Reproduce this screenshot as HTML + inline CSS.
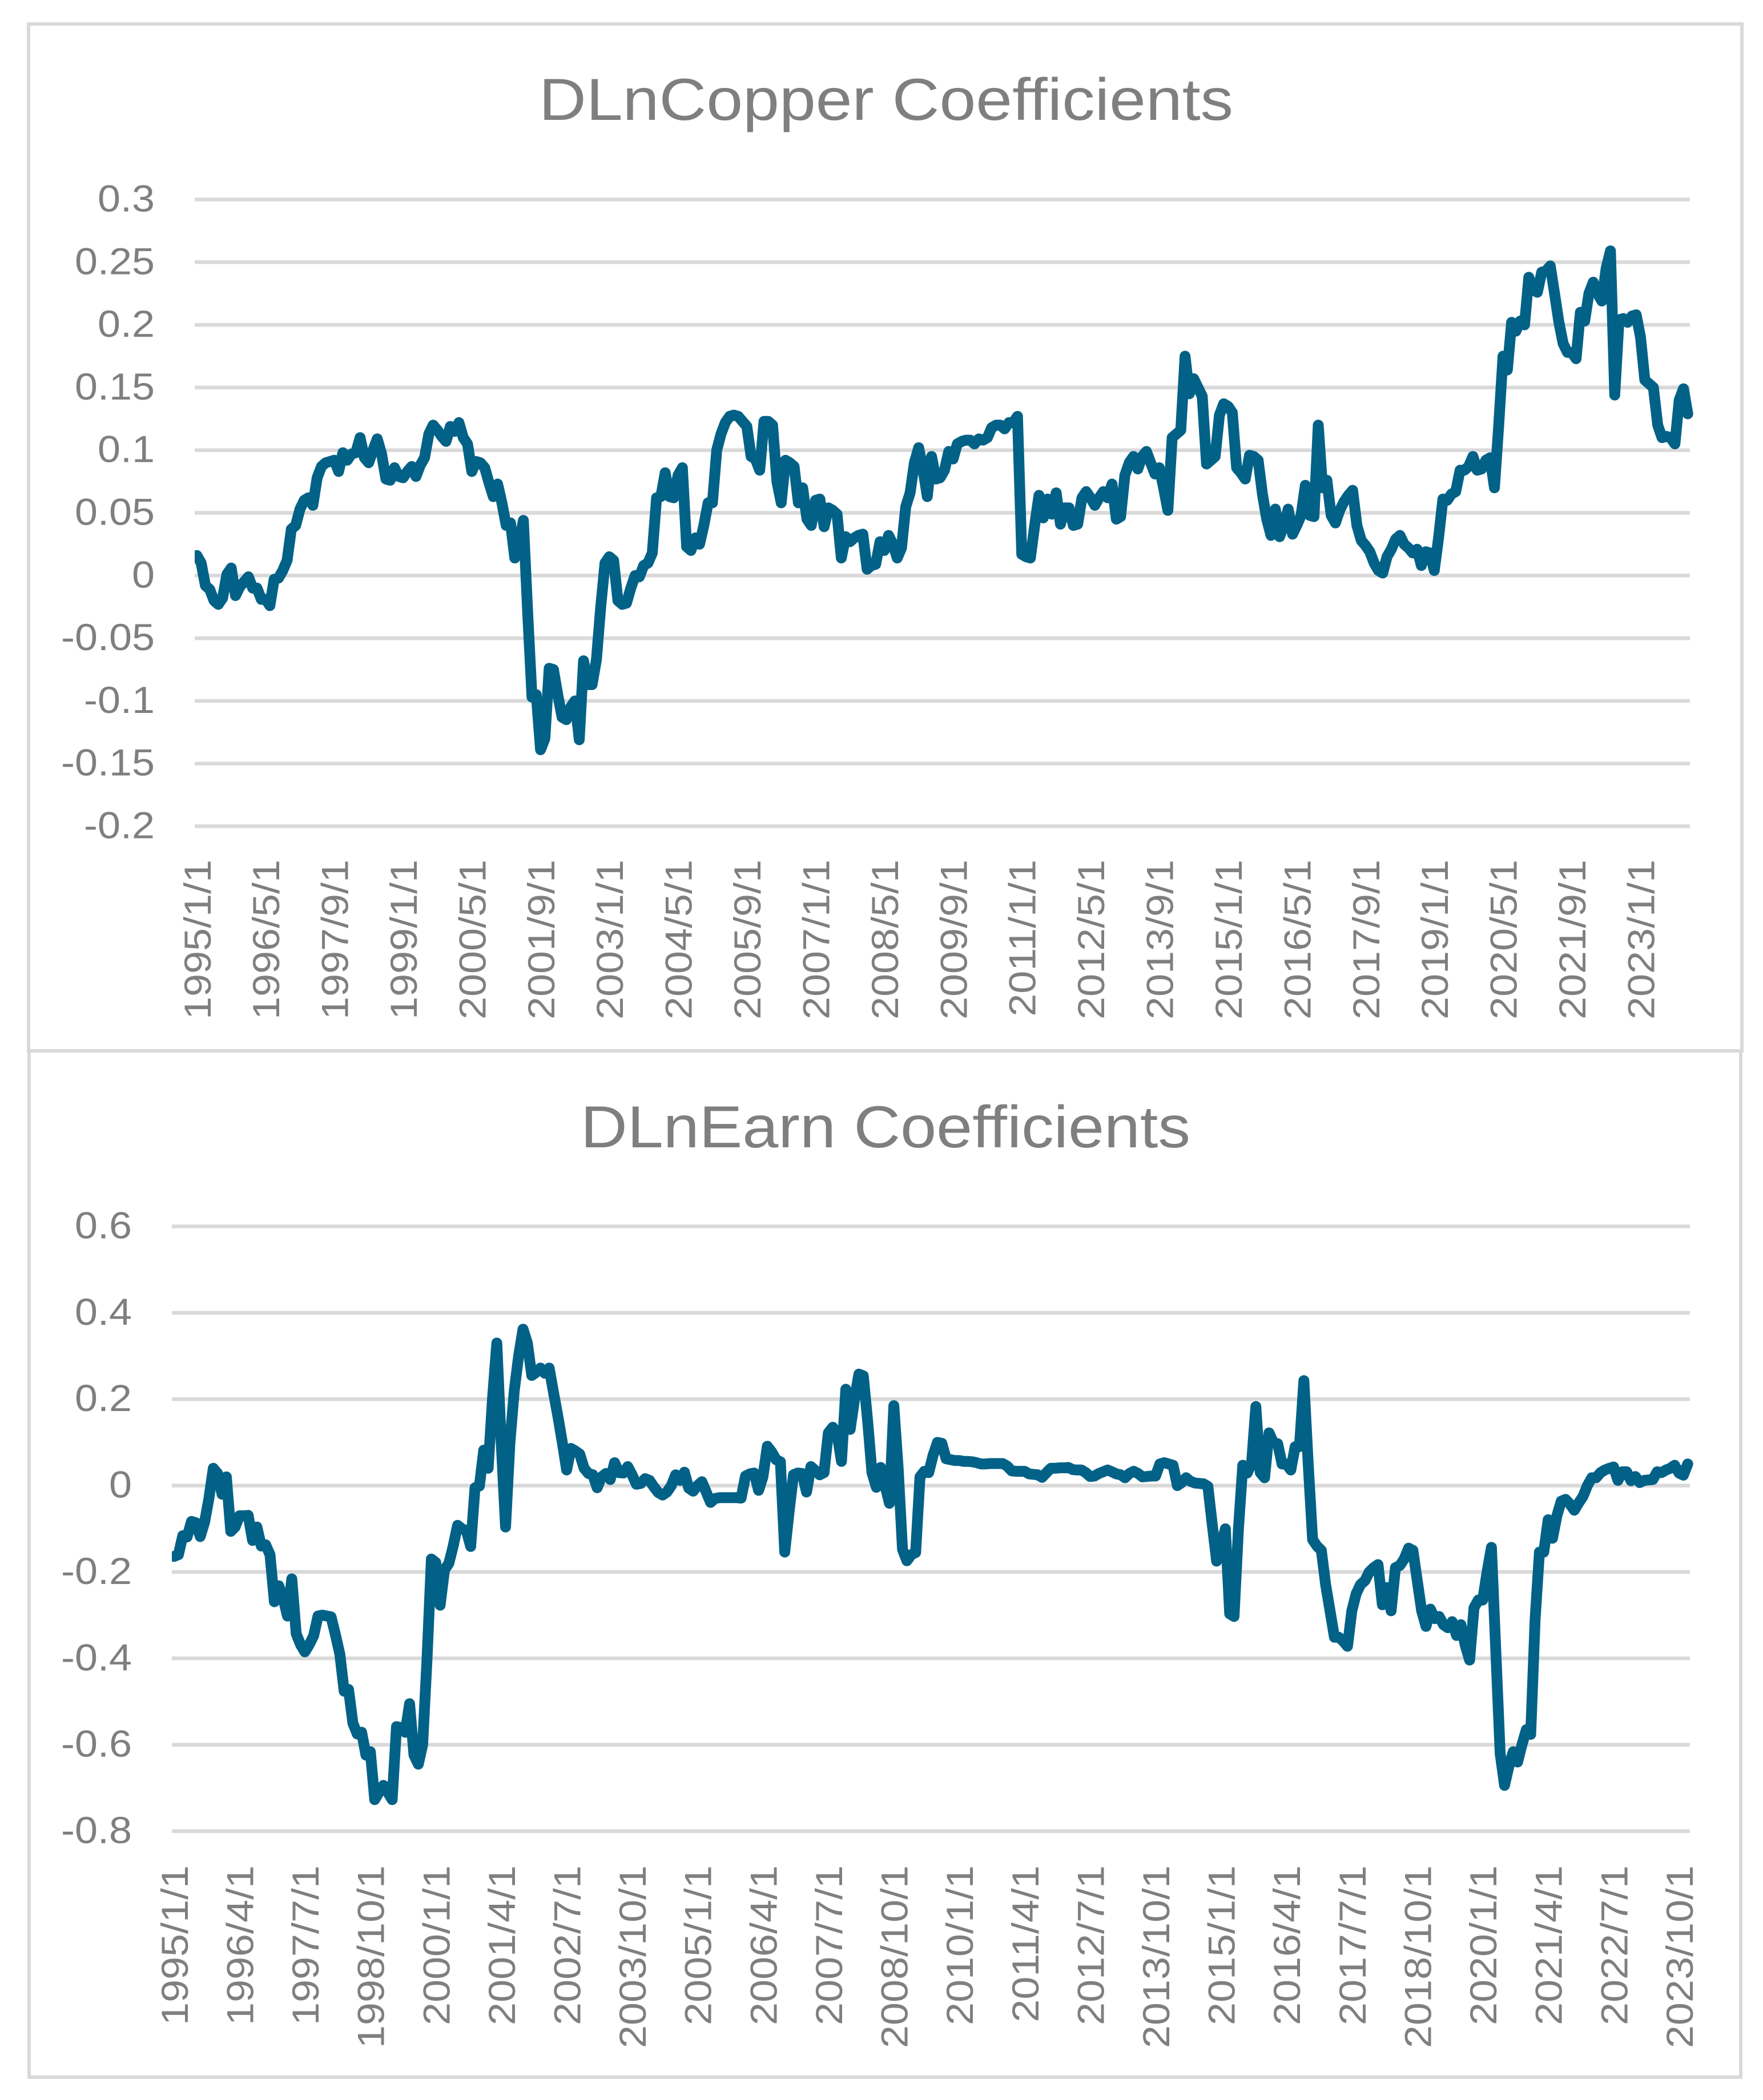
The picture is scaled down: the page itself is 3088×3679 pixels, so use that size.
<!DOCTYPE html>
<html lang="en">
<head>
<meta charset="utf-8">
<title>DLnCopper and DLnEarn Coefficients</title>
<style>
html,body{margin:0;padding:0;background:#fff;}
svg{display:block;font-family:"Liberation Sans",sans-serif;}
</style>
</head>
<body>
<svg id="chart-svg" xmlns="http://www.w3.org/2000/svg" width="3088" height="3679" viewBox="0 0 3088 3679">
  <rect x="0" y="0" width="3088" height="3679" fill="#ffffff"/>
  <g id="copper-chart">
    <text x="1552" y="210" text-anchor="middle" font-size="104" fill="#7f7f7f" textLength="1216" lengthAdjust="spacingAndGlyphs">DLnCopper Coefficients</text>
  </g>
  <g id="earn-chart">
    <text x="1551" y="2010" text-anchor="middle" font-size="104" fill="#7f7f7f" textLength="1068" lengthAdjust="spacingAndGlyphs">DLnEarn Coefficients</text>
  </g>
  <rect x="50" y="42" width="3001" height="1799" fill="none" stroke="#d9d9d9" stroke-width="6"/>
  <rect x="51" y="1841" width="2998" height="1798" fill="none" stroke="#d9d9d9" stroke-width="6"/>
</svg>
<script>
const copperYTicks = [0.3, 0.25, 0.2, 0.15, 0.1, 0.05, 0, -0.05, -0.1, -0.15, -0.2];
const copperYLabels = ["0.3", "0.25", "0.2", "0.15", "0.1", "0.05", "0", "-0.05", "-0.1", "-0.15", "-0.2"];
const copperXTickLabels = ["1995/1/1", "1996/5/1", "1997/9/1", "1999/1/1", "2000/5/1", "2001/9/1", "2003/1/1", "2004/5/1", "2005/9/1", "2007/1/1", "2008/5/1", "2009/9/1", "2011/1/1", "2012/5/1", "2013/9/1", "2015/1/1", "2016/5/1", "2017/9/1", "2019/1/1", "2020/5/1", "2021/9/1", "2023/1/1"];
const copperValues = [
0.016,0.01,-0.008,-0.011,-0.02,-0.023,-0.018,0.001,0.006,-0.016,-0.009,-0.005,-0.001,-0.01,-0.01,-0.019,-0.019,-0.024,-0.003,-0.002,
0.004,0.012,0.037,0.04,0.053,0.06,0.062,0.056,0.078,0.087,0.09,0.091,0.092,0.083,0.098,0.092,0.097,0.098,0.11,0.094,
0.09,0.1,0.109,0.097,0.077,0.076,0.086,0.079,0.078,0.083,0.087,0.079,0.088,0.094,0.113,0.12,0.116,0.111,0.107,0.119,
0.115,0.122,0.11,0.105,0.083,0.091,0.09,0.086,0.074,0.063,0.073,0.058,0.04,0.042,0.014,0.026,0.044,-0.03,-0.097,-0.095,
-0.139,-0.13,-0.074,-0.075,-0.095,-0.113,-0.115,-0.105,-0.1,-0.131,-0.068,-0.087,-0.087,-0.067,-0.025,0.01,0.015,0.012,-0.02,-0.023,
-0.022,-0.01,0,-0.001,0.008,0.01,0.018,0.062,0.063,0.082,0.063,0.062,0.08,0.086,0.023,0.02,0.03,0.025,0.04,0.058,
0.058,0.1,0.113,0.122,0.127,0.128,0.127,0.123,0.119,0.095,0.093,0.084,0.123,0.123,0.12,0.075,0.058,0.092,0.09,0.087,
0.058,0.07,0.045,0.04,0.06,0.061,0.039,0.054,0.052,0.049,0.014,0.031,0.027,0.03,0.032,0.033,0.005,0.008,0.009,0.027,
0.02,0.032,0.025,0.014,0.022,0.055,0.066,0.09,0.102,0.085,0.063,0.095,0.077,0.078,0.084,0.099,0.093,0.105,0.107,0.108,
0.108,0.105,0.109,0.108,0.11,0.118,0.12,0.12,0.117,0.122,0.122,0.127,0.017,0.015,0.014,0.04,0.064,0.046,0.061,0.049,
0.066,0.041,0.054,0.054,0.04,0.041,0.062,0.067,0.062,0.056,0.062,0.067,0.062,0.073,0.045,0.047,0.08,0.09,0.095,0.085,
0.095,0.099,0.09,0.081,0.086,0.07,0.052,0.11,0.113,0.116,0.175,0.145,0.157,0.15,0.143,0.089,0.092,0.095,0.128,0.137,
0.135,0.13,0.086,0.082,0.077,0.096,0.095,0.092,0.065,0.045,0.032,0.053,0.031,0.04,0.053,0.033,0.04,0.048,0.072,0.048,
0.047,0.12,0.07,0.076,0.048,0.042,0.052,0.059,0.064,0.068,0.04,0.028,0.024,0.019,0.01,0.004,0.002,0.015,0.021,0.029,
0.032,0.025,0.022,0.018,0.021,0.008,0.019,0.018,0.004,0.03,0.061,0.06,0.065,0.067,0.084,0.084,0.087,0.095,0.084,0.085,
0.092,0.094,0.07,0.12,0.175,0.164,0.202,0.195,0.203,0.2,0.238,0.228,0.226,0.242,0.243,0.247,0.225,0.202,0.185,0.178,
0.178,0.173,0.21,0.203,0.225,0.234,0.225,0.219,0.245,0.259,0.144,0.204,0.205,0.202,0.207,0.208,0.19,0.156,0.153,0.15,
0.12,0.11,0.111,0.11,0.105,0.14,0.149,0.129
];

const earnYTicks = [0.6, 0.4, 0.2, 0, -0.2, -0.4, -0.6, -0.8];
const earnYLabels = ["0.6", "0.4", "0.2", "0", "-0.2", "-0.4", "-0.6", "-0.8"];
const earnXTickLabels = ["1995/1/1", "1996/4/1", "1997/7/1", "1998/10/1", "2000/1/1", "2001/4/1", "2002/7/1", "2003/10/1", "2005/1/1", "2006/4/1", "2007/7/1", "2008/10/1", "2010/1/1", "2011/4/1", "2012/7/1", "2013/10/1", "2015/1/1", "2016/4/1", "2017/7/1", "2018/10/1", "2020/1/1", "2021/4/1", "2022/7/1", "2023/10/1"];
const earnValues = [
-0.164,-0.16,-0.116,-0.119,-0.083,-0.086,-0.118,-0.085,-0.03,0.04,0.028,-0.02,0.02,-0.106,-0.096,-0.07,-0.07,-0.069,-0.127,-0.096,
-0.14,-0.137,-0.16,-0.269,-0.232,-0.26,-0.302,-0.216,-0.343,-0.368,-0.385,-0.368,-0.348,-0.302,-0.3,-0.302,-0.304,-0.345,-0.39,-0.476,
-0.472,-0.55,-0.575,-0.571,-0.624,-0.616,-0.727,-0.71,-0.694,-0.71,-0.727,-0.558,-0.56,-0.571,-0.505,-0.624,-0.645,-0.6,-0.4,-0.17,
-0.178,-0.277,-0.195,-0.18,-0.14,-0.092,-0.1,-0.104,-0.141,-0.005,-0.001,0.082,0.04,0.2,0.33,0.1,-0.096,0.1,0.22,0.3,
0.362,0.33,0.255,0.262,0.272,0.26,0.272,0.215,0.16,0.1,0.036,0.086,0.08,0.073,0.04,0.028,0.025,-0.005,0.02,0.028,
0.014,0.053,0.03,0.029,0.044,0.025,0.003,0.005,0.016,0.012,-0.003,-0.016,-0.022,-0.015,0,0.025,0.012,0.031,-0.006,-0.013,
0,0.009,-0.015,-0.039,-0.03,-0.028,-0.028,-0.028,-0.028,-0.028,-0.029,0.022,0.027,0.029,-0.011,0.02,0.091,0.078,0.06,0.055,
-0.154,-0.06,0.025,0.029,0.028,-0.015,0.044,0.035,0.025,0.03,0.122,0.135,0.12,0.056,0.223,0.13,0.2,0.258,0.254,0.15,
0.03,-0.004,0.042,0,-0.041,0.185,0.04,-0.148,-0.174,-0.16,-0.155,0.02,0.033,0.03,0.07,0.1,0.098,0.062,0.06,0.058,
0.058,0.056,0.056,0.055,0.053,0.05,0.05,0.051,0.051,0.051,0.051,0.045,0.034,0.033,0.033,0.033,0.027,0.026,0.025,0.019,
0.03,0.04,0.04,0.041,0.041,0.042,0.037,0.036,0.036,0.03,0.021,0.022,0.028,0.032,0.036,0.032,0.027,0.025,0.018,0.028,
0.033,0.028,0.02,0.021,0.022,0.022,0.05,0.053,0.05,0.047,0,0.007,0.018,0.01,0.006,0.005,0.004,-0.002,-0.09,-0.175,
-0.14,-0.1,-0.297,-0.303,-0.1,0.047,0.029,0.05,0.183,0.03,0.018,0.122,0.1,0.097,0.05,0.05,0.036,0.09,0.09,0.243,
0.05,-0.125,-0.14,-0.15,-0.23,-0.29,-0.351,-0.351,-0.36,-0.372,-0.29,-0.25,-0.229,-0.22,-0.2,-0.19,-0.183,-0.276,-0.236,-0.29,
-0.19,-0.185,-0.17,-0.145,-0.15,-0.22,-0.29,-0.326,-0.286,-0.308,-0.303,-0.322,-0.329,-0.315,-0.347,-0.322,-0.37,-0.404,-0.283,-0.265,
-0.265,-0.2,-0.143,-0.383,-0.62,-0.694,-0.65,-0.616,-0.64,-0.6,-0.565,-0.576,-0.311,-0.154,-0.154,-0.079,-0.122,-0.07,-0.036,-0.032,
-0.043,-0.057,-0.04,-0.025,0,0.018,0.018,0.03,0.036,0.04,0.043,0.012,0.032,0.032,0.011,0.021,0.007,0.012,0.013,0.014,
0.032,0.03,0.036,0.04,0.047,0.029,0.024,0.05
];

const SVG_NS = "http://www.w3.org/2000/svg";

function make(parent, tag, attrs) {
  const el = document.createElementNS(SVG_NS, tag);
  for (const key in attrs) el.setAttribute(key, attrs[key]);
  parent.appendChild(el);
  return el;
}

function drawChart(parent, prefix, layout, yTicks, yLabels, xTickLabels, tickStep, values) {
  const yMax = Math.max.apply(null, yTicks);
  const yMin = Math.min.apply(null, yTicks);
  const yScale = function (v) {
    return layout.top + (yMax - v) / (yMax - yMin) * (layout.bottom - layout.top);
  };
  const band = (layout.right - layout.left) / values.length;
  const xScale = function (i) {
    return layout.left + (i + 0.5) * band;
  };

  yTicks.forEach(function (tick, i) {
    const grid = make(parent, "line", {x1: layout.left, x2: layout.right, y1: yScale(tick), y2: yScale(tick), stroke: "#d9d9d9", "stroke-width": 6.5});
    
    
    const label = make(parent, "text", {x: layout.yLabelRight, y: yScale(tick) + 21, "text-anchor": "end", "font-size": 66, fill: "#7f7f7f"});
    label.textContent = yLabels[i];
    
    
    label.setAttribute("textLength", (label.getComputedTextLength() * 1.09).toFixed(1));
    label.setAttribute("lengthAdjust", "spacingAndGlyphs");
  });

  xTickLabels.forEach(function (text, i) {
    const x = xScale(i * tickStep) + 24;
    const label = make(parent, "text", {x: x, y: layout.xLabelTop, "text-anchor": "end", "font-size": 66, fill: "#7f7f7f", transform: "rotate(-90 " + x + " " + layout.xLabelTop + ")"});
    label.textContent = text;
    
    
    label.setAttribute("textLength", (label.getComputedTextLength() * 1.09).toFixed(1));
    label.setAttribute("lengthAdjust", "spacingAndGlyphs");
  });

  const clipId = prefix + "-clip";
  const defs = make(parent, "defs", {});
  const clip = make(defs, "clipPath", {id: clipId});
  make(clip, "rect", {x: layout.left, y: 0, width: layout.right - layout.left + 20, height: 3679});

  const points = values.map(function (v, i) {
    return xScale(i).toFixed(1) + "," + yScale(v).toFixed(1);
  }).join(" ");
  const line = make(parent, "polyline", {points: points, fill: "none", stroke: "#026186", "stroke-width": 19, "stroke-linejoin": "round", "stroke-linecap": "round", "clip-path": "url(#" + clipId + ")"});
  
  
}

drawChart(document.getElementById("copper-chart"), "copper",
  {left: 341, right: 2960, top: 349.5, bottom: 1447.5, yLabelRight: 271, xLabelTop: 1506},
  copperYTicks, copperYLabels, copperXTickLabels, 16, copperValues);

drawChart(document.getElementById("earn-chart"), "earn",
  {left: 301, right: 2960, top: 2148.5, bottom: 3208, yLabelRight: 231, xLabelTop: 3268},
  earnYTicks, earnYLabels, earnXTickLabels, 15, earnValues);
</script>
</body>
</html>
